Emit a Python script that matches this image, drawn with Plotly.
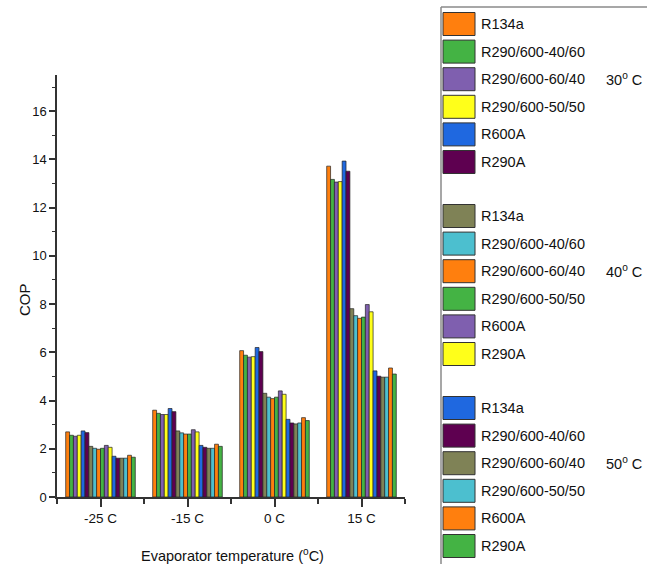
import plotly.graph_objects as go

W, H = 658, 564
categories = ["-25 C", "-15 C", "0 C", "15 C"]
refrigerants = ["R134a", "R290/600-40/60", "R290/600-60/40", "R290/600-50/50", "R600A", "R290A"]
cond_temps = ["30<sup>o</sup> C", "40<sup>o</sup> C", "50<sup>o</sup> C"]

colors_30 = ["#FF7F0E", "#44B344", "#7F5FAF", "#FFFF1A", "#1F68E0", "#5E0050"]
colors_40 = ["#7F8256", "#4CBFCF", "#FF7F0E", "#44B344", "#7F5FAF", "#FFFF1A"]
colors_50 = ["#1F68E0", "#5E0050", "#7F8256", "#4CBFCF", "#FF7F0E", "#44B344"]

# COP values per refrigerant at each evaporator temperature
cop_30 = [
    [2.70, 3.60, 6.07, 13.72],
    [2.56, 3.47, 5.88, 13.17],
    [2.52, 3.42, 5.80, 13.06],
    [2.56, 3.42, 5.82, 13.08],
    [2.74, 3.67, 6.20, 13.93],
    [2.67, 3.54, 6.03, 13.51],
]
cop_40 = [
    [2.10, 2.74, 4.30, 7.81],
    [2.02, 2.66, 4.14, 7.52],
    [1.98, 2.61, 4.08, 7.41],
    [2.02, 2.61, 4.14, 7.46],
    [2.14, 2.79, 4.40, 7.98],
    [2.06, 2.70, 4.26, 7.68],
]
cop_50 = [
    [1.69, 2.14, 3.22, 5.23],
    [1.61, 2.06, 3.07, 5.01],
    [1.61, 2.02, 3.03, 4.97],
    [1.61, 2.02, 3.07, 4.97],
    [1.73, 2.19, 3.29, 5.35],
    [1.65, 2.10, 3.17, 5.10],
]

FONT = "Liberation Sans, Arial, sans-serif"

# plot area in pixels
L, R, T, B = 57, 405, 75, 497

fig = go.Figure()
xpos = list(range(len(categories)))
for values, cols in ((cop_30, colors_30), (cop_40, colors_40), (cop_50, colors_50)):
    for name, vals, c in zip(refrigerants, values, cols):
        fig.add_trace(go.Bar(
            x=xpos, y=vals, name=name, showlegend=False,
            marker=dict(color=c, line=dict(color="#222222", width=0.7)),
        ))

def px(x):
    return (x - L) / (R - L)

def py(y):
    return (B - y) / (B - T)

shapes = []
annotations = []
# legend frame
shapes.append(dict(type="line", xref="paper", yref="paper", x0=px(441), x1=px(441),
                   y0=py(7), y1=py(H + 5), line=dict(color="#8a8a8a", width=1.5)))
shapes.append(dict(type="line", xref="paper", yref="paper", x0=px(441), x1=px(647),
                   y0=py(7), y1=py(7), line=dict(color="#8a8a8a", width=1.5)))

group_top = [24, 216, 408]
row_step = 27.6
for g, (cols, label) in enumerate(zip((colors_30, colors_40, colors_50), cond_temps)):
    for i, (name, c) in enumerate(zip(refrigerants, cols)):
        yc = group_top[g] + i * row_step
        shapes.append(dict(type="rect", xref="paper", yref="paper",
                           x0=px(443), x1=px(475), y0=py(yc - 11.5), y1=py(yc + 11.5),
                           fillcolor=c, line=dict(color="#333333", width=1)))
        annotations.append(dict(xref="paper", yref="paper", x=px(479), y=py(yc),
                                xanchor="left", yanchor="middle", text=name, showarrow=False,
                                font=dict(family=FONT, size=14.5, color="#111111")))
    yc = group_top[g] + 2 * row_step
    annotations.append(dict(xref="paper", yref="paper", x=px(604), y=py(yc),
                            xanchor="left", yanchor="middle", text=label, showarrow=False,
                            font=dict(family=FONT, size=14.5, color="#111111")))

annotations.append(dict(xref="paper", yref="paper", x=px(24), y=py(300), text="COP",
                        textangle=-90, showarrow=False, xanchor="center", yanchor="middle",
                        font=dict(family=FONT, size=15, color="#111111")))
annotations.append(dict(xref="paper", yref="paper", x=px(232), y=py(555),
                        text="Evaporator temperature (<sup>o</sup>C)", showarrow=False,
                        xanchor="center", yanchor="middle",
                        font=dict(family=FONT, size=14.5, color="#111111")))

fig.update_layout(
    width=W, height=H,
    margin=dict(l=L, r=W - R, t=T, b=H - B, pad=0, autoexpand=False),
    paper_bgcolor="white", plot_bgcolor="white",
    barmode="group", bargap=0.2, bargroupgap=0,
    shapes=shapes, annotations=annotations,
    font=dict(family=FONT, size=13, color="#111111"),
)
fig.update_xaxes(
    range=[-0.5, 3.5], tickvals=xpos, ticktext=categories,
    showline=True, linecolor="#333333", linewidth=1.5, mirror=False,
    ticks="outside", ticklen=8, tickwidth=1.5, tickcolor="#333333",
    minor=dict(tick0=-0.5, dtick=1, ticks="outside", ticklen=5, tickwidth=1.5, tickcolor="#333333"),
    showgrid=False, zeroline=False, tickfont=dict(size=13.5),
)
fig.update_yaxes(
    range=[0, 17.5], tickvals=[0, 2, 4, 6, 8, 10, 12, 14, 16],
    showline=True, linecolor="#333333", linewidth=1.5,
    ticks="outside", ticklen=6, tickwidth=1.5, tickcolor="#333333",
    minor=dict(tick0=0, dtick=1, ticks="outside", ticklen=3, tickwidth=1.2, tickcolor="#333333"),
    showgrid=False, zeroline=False, tickfont=dict(size=13),
)

fig.write_html("out.html", config={"displayModeBar": False},
               post_script="document.body.style.margin='0';document.body.style.padding='0';")
